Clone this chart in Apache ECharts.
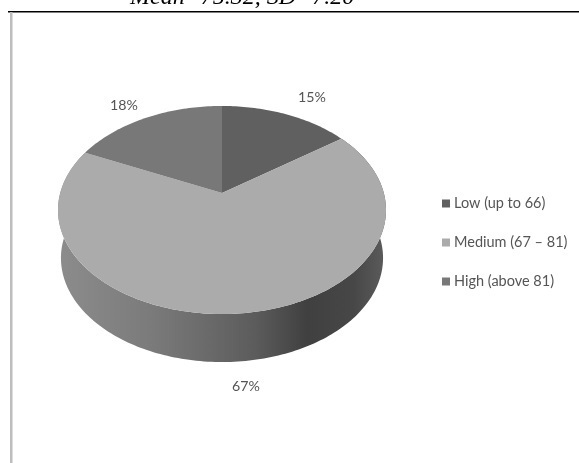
<!DOCTYPE html>
<html><head><meta charset="utf-8">
<style>html,body{margin:0;padding:0;background:#fff;overflow:hidden}#c{width:579px;height:463px;filter:blur(0.7px)}</style>
<script src="https://cdn.jsdelivr.net/npm/echarts@6/dist/echarts.min.js"></script>
</head><body><div id="c"></div>
<script>
const categories = ['Low (up to 66)', 'Medium (67 – 81)', 'High (above 81)'];
const values = [15, 67, 18];
const colors = ['#606060', '#ababab', '#787878'];
const subtitle = 'Mean=75.32, SD=7.20';

const total = values.reduce((a, b) => a + b, 0);
const CX = 222, CY = 193, D = 161.8, A = -69.7, C = 0.1635, DEPTH = 48, BOTTOM_SCALE = 0.982;
function project(angle, bottom) {
  const u = Math.sin(angle), v = Math.cos(angle), w = 1 + C * v;
  const x = D * u / w, y = (CY + A * v) / w;
  return bottom ? [CX + x * BOTTOM_SCALE, y + DEPTH] : [CX + x, y];
}
function arc(a0, a1, bottom) {
  const n = Math.max(2, Math.ceil(Math.abs(a1 - a0) / 0.02)), pts = [];
  for (let i = 0; i <= n; i++) pts.push(project(a0 + (a1 - a0) * i / n, bottom));
  return pts;
}
const wallFill = {type:'linear',x:0,y:0,x2:1,y2:0,colorStops:[
  {offset:0,color:'#8c8c8c'},{offset:0.28,color:'#7b7b7b'},{offset:0.6,color:'#5c5c5c'},
  {offset:0.76,color:'#404040'},{offset:0.9,color:'#474747'},{offset:1,color:'#5c5c5c'}]};

function sliceRenderer(idx) {
  const before = values.slice(0, idx).reduce((a, b) => a + b, 0);
  return function (params, api) {
    const a0 = before / total * 2 * Math.PI;
    const a1 = (before + api.value(0)) / total * 2 * Math.PI;
    const top = arc(a0, a1, false);
    const children = [];
    if (a1 - a0 > Math.PI) {
      const wall = top.concat(arc(a1, a0, true));
      children.push({type:'polygon',shape:{points:wall},style:{fill:wallFill}});
    }
    children.push({type:'polygon',shape:{points:[[CX, CY]].concat(top)},style:{fill:colors[idx]}});
    return {type:'group',children};
  };
}

const labelPos = [[312, 97], [246, 386], [124, 105]];
const chart = echarts.init(document.getElementById('c'), null, {renderer:'canvas'});
chart.setOption({
  animation:false,
  backgroundColor:'#fff',
  title:{text:subtitle,left:130,top:-14,padding:0,textStyle:{fontFamily:'Liberation Serif',fontStyle:'italic',fontWeight:'normal',fontSize:24,color:'#000'}},
  legend:{orient:'vertical',left:437,top:191,itemWidth:8,itemHeight:8,itemGap:24,icon:'rect',
    data:categories,textStyle:{fontFamily:'Lato',fontSize:14.5,color:'#555',padding:[0,0,0,-1]}},
  graphic:[
    {type:'rect',shape:{x:8,y:11,width:571,height:1.5},style:{fill:'#000'}},
    {type:'rect',shape:{x:10,y:12,width:2.5,height:451},style:{fill:'#bdbdbd'}}
  ].concat(values.map((v,i)=>({type:'text',x:labelPos[i][0],y:labelPos[i][1],
    style:{text:v+'%',align:'center',verticalAlign:'middle',fill:'#555',font:'14.2px Lato'}}))),
  series:categories.map((name,i)=>({
    type:'custom',name,coordinateSystem:'none',
    itemStyle:{color:colors[i]},
    renderItem:sliceRenderer(i),
    data:[[values[i]]]
  }))
});
</script></body></html>
